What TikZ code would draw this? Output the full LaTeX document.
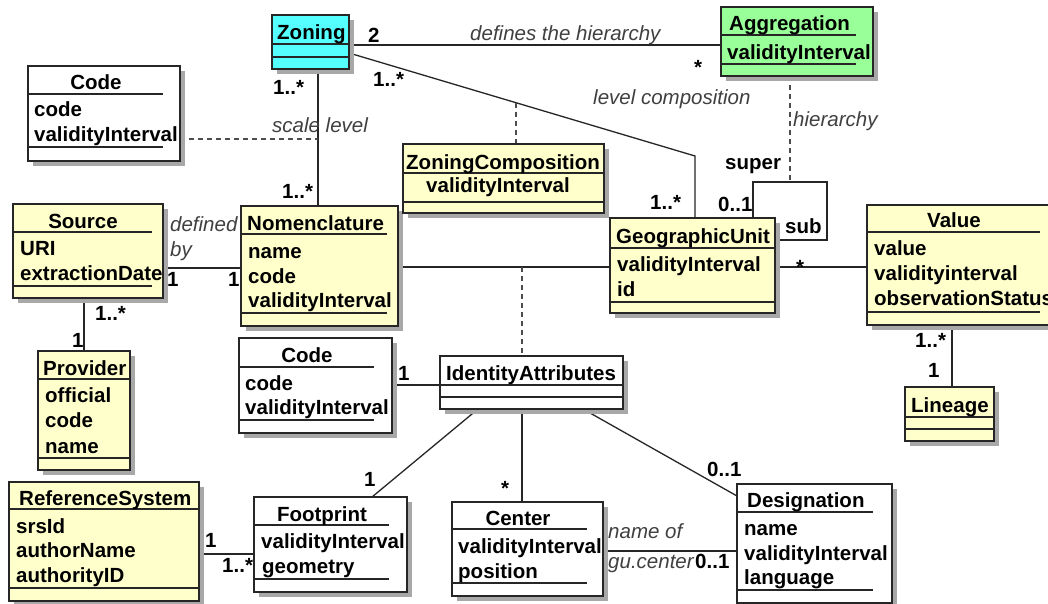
\documentclass[tikz,border=0pt]{standalone}
\usepackage{fontspec}
\setmainfont{Liberation Sans}
\usetikzlibrary{calc}
\pgfdeclarelayer{bg}
\pgfsetlayers{bg,main}
\definecolor{uyellow}{HTML}{FFFFCC}
\definecolor{ucyan}{HTML}{55FFFF}
\definecolor{ugreen}{HTML}{99FF99}
\definecolor{ushadow}{HTML}{A8A8A8}
\definecolor{ulabel}{HTML}{404040}
\tikzset{
  classbox/.style={draw=black!85, line width=1.6pt, inner sep=0pt, outer sep=0pt, anchor=north west},
  sepline/.style={line width=1.4pt, draw=black!85},
  ctext/.style={font=\fontsize{20.5}{25}\selectfont\bfseries, inner sep=0pt, anchor=base west},
  ctitle/.style={ctext, anchor=base},
  mult/.style={ctext},
  multc/.style={ctext, anchor=base},
  role/.style={font=\fontsize{20.5}{25}\selectfont\itshape, text=ulabel, inner sep=0pt, anchor=base west},
  assoc/.style={line width=1.3pt, draw=black!85},
  dep/.style={line width=1.3pt, draw=black!70, dash pattern=on 5pt off 4pt},
}
% name, x1, y1, x2, y2, fill, sep1, sep2, separator right end
\newcommand\ucls[9]{%
  \fill[ushadow] (#2+5,#3+5) rectangle (#4+5,#5+5);
  \node[classbox, fill=#6, minimum width={(#4-#2)*1pt}, minimum height={(#5-#3)*1pt}] (#1) at (#2,#3) {};
  \draw[sepline] (#2,#7) -- (#9,#7) (#2,#8) -- (#9,#8);
}
\begin{document}
\begin{tikzpicture}[x=1pt,y=-1pt]
\useasboundingbox (0,0) rectangle (1048,604);
\begin{pgfonlayer}{bg}
\fill[white] (0,0) rectangle (1048,604);
\end{pgfonlayer}

% ---------- classes ----------
\ucls{Zoning}{272}{15}{349}{69}{ucyan}{44}{57}{349}
\node[ctext] (tZoning) at (277,40) {Zoning};

\ucls{Aggr}{721}{7}{873}{76}{ugreen}{35}{64}{856}
\node[ctext] (tAggr) at (729,31) {Aggregation};
\node[ctext] (aAggr) at (727,60) {validityInterval};

\ucls{CodeA}{28}{66}{180}{161}{white}{94}{147}{163}
\node[ctitle] (tCodeA) at (96,90) {Code};
\node[ctext] (aCodeA1) at (34,117) {code};
\node[ctext] (aCodeA2) at (34,142) {validityInterval};

\ucls{Source}{13}{204}{163}{298}{uyellow}{232}{286}{152}
\node[ctitle] (tSource) at (83,228) {Source};
\node[ctext] (aSource1) at (20,255) {URI};
\node[ctext] (aSource2) at (20,280) {extractionDate};

\ucls{Nomen}{241}{206}{398}{326}{uyellow}{234}{313}{387}
\node[ctext] (tNomen) at (247,230) {Nomenclature};
\node[ctext] (aNomen1) at (248,258) {name};
\node[ctext] (aNomen2) at (248,283) {code};
\node[ctext] (aNomen3) at (248,307) {validityInterval};

\ucls{Provider}{38}{351}{130}{470}{uyellow}{379}{458}{130}
\node[ctext] (tProvider) at (43,375) {Provider};
\node[ctext] (aProvider1) at (45,402) {official};
\node[ctext] (aProvider2) at (45,427) {code};
\node[ctext] (aProvider3) at (45,453) {name};

\ucls{CodeB}{239}{338}{392}{433}{white}{367}{420}{374}
\node[ctitle] (tCodeB) at (307,362) {Code};
\node[ctext] (aCodeB1) at (245,390) {code};
\node[ctext] (aCodeB2) at (245,414) {validityInterval};

\ucls{ZC}{403}{144}{604}{213}{uyellow}{173}{202}{604}
\node[ctext] (tZC) at (406,169) {ZoningComposition};
\node[ctext] (aZC) at (426,193) {validityInterval};

\ucls{GU}{610}{218}{775}{313}{uyellow}{248}{302}{775}
\node[ctext] (tGU) at (616,243) {GeographicUnit};
\node[ctext] (aGU1) at (617,271) {validityInterval};
\node[ctext] (aGU2) at (617,296) {id};

\ucls{Value}{867}{205}{1068}{325}{uyellow}{232}{312}{1040}
\node[ctitle] (tValue) at (954,227) {Value};
\node[ctext] (aValue1) at (874,255) {value};
\node[ctext] (aValue2) at (874,280) {validityinterval};
\node[ctext] (aValue3) at (874,305) {observationStatus};

\ucls{Lineage}{905}{387}{994}{441}{uyellow}{417}{429}{994}
\node[ctext] (tLineage) at (911,412) {Lineage};

\ucls{IA}{440}{356}{623}{409}{white}{385}{397}{623}
\node[ctext] (tIA) at (446,380) {IdentityAttributes};

\ucls{RefSys}{9}{482}{199}{601}{uyellow}{509}{588}{199}
\node[ctext] (tRefSys) at (19,505) {ReferenceSystem};
\node[ctext] (aRefSys1) at (16,533) {srsId};
\node[ctext] (aRefSys2) at (16,557) {authorName};
\node[ctext] (aRefSys3) at (16,582) {authorityID};

\ucls{Footprint}{254}{497}{407}{592}{white}{525}{579}{389}
\node[ctitle] (tFootprint) at (322,521) {Footprint};
\node[ctext] (aFootprint1) at (261,548) {validityInterval};
\node[ctext] (aFootprint2) at (262,573) {geometry};

\ucls{Center}{452}{502}{603}{596}{white}{529}{583}{587}
\node[ctitle] (tCenter) at (518,525) {Center};
\node[ctext] (aCenter1) at (458,553) {validityInterval};
\node[ctext] (aCenter2) at (458,578) {position};

\ucls{Desig}{737}{484}{892}{603}{white}{512}{590}{873}
\node[ctext] (tDesig) at (747,507) {Designation};
\node[ctext] (aDesig1) at (744,535) {name};
\node[ctext] (aDesig2) at (744,560) {validityInterval};
\node[ctext] (aDesig3) at (744,584) {language};

% ---------- connectors ----------
\coordinate (lcb) at (695,156);
\coordinate (zx) at (318,0);
\coordinate (hx) at (790,0);
\coordinate (lx) at (753,182);
\coordinate (iax) at (522,267);
\coordinate (vx) at (952,0);
\coordinate (px) at (84,0);
\begin{pgfonlayer}{bg}
\draw[assoc] (Zoning.east |- 0,45) -- (Aggr.west |- 0,45);
\draw[assoc] (Zoning.east |- 0,53) -- (lcb) -- (lcb |- GU.north);
\coordinate (zcm) at ($(Zoning.east |- 0,53)!0.4827!(lcb)$);
\draw[dep] (zcm) -- (zcm |- ZC.north);
\draw[assoc] (zx |- Zoning.south) -- (zx |- Nomen.north);
\draw[dep] (CodeA.east |- 0,139) -- (zx |- 0,139);
\draw[dep] (hx |- Aggr.south) -- (hx |- 0,182);
\draw[assoc] (lx |- GU.north) -- (lx) -- (827,182) -- (827,240) -- (GU.east |- 0,240);
\draw[assoc] (Nomen.east |- 0,267) -- (GU.west |- 0,267);
\draw[dep] (iax) -- (iax |- IA.north);
\draw[assoc] (GU.east |- 0,267) -- (Value.west |- 0,267);
\draw[assoc] (vx |- Value.south) -- (vx |- Lineage.north);
\draw[assoc] (Source.east |- 0,268) -- (Nomen.west |- 0,268);
\draw[assoc] (px |- Source.south) -- (px |- Provider.north);
\draw[assoc] (CodeB.east |- 0,385) -- (IA.west |- 0,385);
\draw[assoc] (IA.south -| 478,0) -- (Footprint.north -| 372,0);
\draw[assoc] (IA.south -| 522,0) -- (Center.north -| 522,0);
\draw[assoc] (IA.south -| 583,0) -- (Desig.west |- 0,496);
\draw[assoc] (RefSys.east |- 0,554) -- (Footprint.west |- 0,554);
\draw[assoc] (Center.east |- 0,551) -- (Desig.west |- 0,551);
\end{pgfonlayer}

% ---------- labels ----------
\node[mult] (m1) at (368,43) {2};
\node[role] (r1) at (470,41) {defines the hierarchy};
\node[multc] (m2) at (698,75) {*};
\node[mult] (m3) at (373,87) {1..*};
\node[mult] (m4) at (273,95) {1..*};
\node[role] (r2) at (272,133) {scale level};
\node[mult] (m5) at (282,198) {1..*};
\node[role] (r3) at (593,105) {level composition};
\node[role] (r4) at (793,127) {hierarchy};
\node[mult] (m6) at (725,170) {super};
\node[mult] (m7) at (650,209) {1..*};
\node[mult] (m8) at (718,211) {0..1};
\node[mult] (m9) at (785,233) {sub};
\node[multc] (m10) at (800,274) {*};
\node[mult] (m11) at (915,347) {1..*};
\node[mult] (m12) at (928,377) {1};
\node[role] (r5) at (170,231) {defined};
\node[role] (r6) at (170,256) {by};
\node[mult] (m13) at (167,286) {1};
\node[mult] (m14) at (228,286) {1};
\node[mult] (m15) at (95,320) {1..*};
\node[mult] (m16) at (72,347) {1};
\node[mult] (m17) at (398,380) {1};
\node[mult] (m18) at (364,486) {1};
\node[multc] (m19) at (505,495) {*};
\node[mult] (m20) at (707,476) {0..1};
\node[mult] (m21) at (205,547) {1};
\node[mult] (m22) at (222,572) {1..*};
\node[role] (r7) at (608,538) {name of};
\node[role] (r8) at (608,568) {gu.center};
\node[mult] (m23) at (695,568) {0..1};
\end{tikzpicture}
\end{document}
